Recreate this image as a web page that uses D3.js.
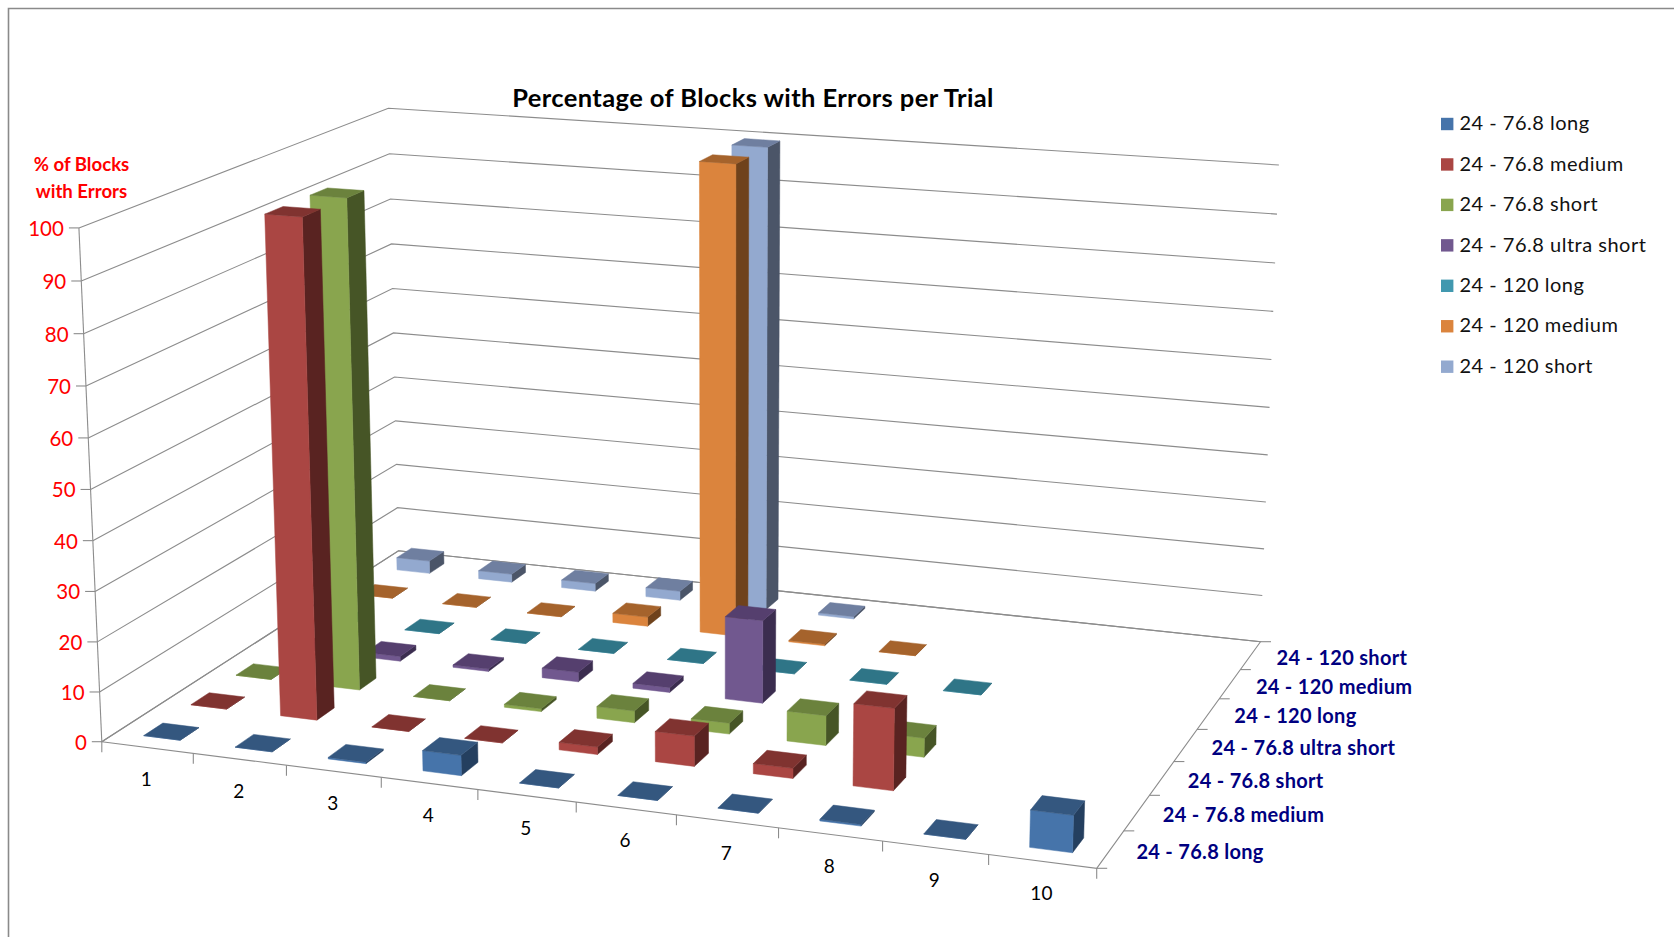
<!DOCTYPE html>
<html>
<head>
<meta charset="utf-8">
<title>Percentage of Blocks with Errors per Trial</title>
<script src="https://cdn.jsdelivr.net/npm/d3@7"></script>
<style>
html,body{margin:0;padding:0;background:#fff;}
svg{display:block;}
text{font-family:Lato,"Open Sans",sans-serif;}
</style>
</head>
<body>
<svg id="chart" width="1674" height="937"></svg>
<script>
// Data: percentage of blocks with errors, one array per series, one entry per trial.
const trials = ["1","2","3","4","5","6","7","8","9","10"];
const seriesNames = ["24 - 76.8 long","24 - 76.8 medium","24 - 76.8 short","24 - 76.8 ultra short","24 - 120 long","24 - 120 medium","24 - 120 short"];
const long768 = [0,0,0.3,4,0,0,0,0.3,0,7];
const medium768 = [0,99.5,0,0,1.5,6,2,16,null,null];
const short768 = [0,99.5,0,0.6,2.4,2.2,6,3.8,null,null];
const ultra768 = [0,1,0.5,2,1,17,null,null,null,null];
const long120 = [0,0,0,0,0,0,0,0,null,null];
const medium120 = [0,0,0,2,99.5,0.3,0,null,null,null];
const short120 = [2.8,1.8,1.7,2,99.5,0.5,null,null,null,null];
const seriesValues = [long768,medium768,short768,ultra768,long120,medium120,short120];
const valueTicks = [0,10,20,30,40,50,60,70,80,90,100];

// Face colours per series: front, top, side.
const frontColors = ["#4674AA","#AA4643","#89A54E","#71588F","#4198AF","#DB843D","#93A9CF"];
const topColors = ["#34577F","#803330","#6B823D","#553F6E","#2F7587","#A5632C","#6F7FA0"];
const sideColors = ["#243F5F","#592321","#465526","#3B2D4F","#215360","#6F421C","#4B5568"];

const svg = d3.select("#chart");
const gridColor = "#8c8c8c";

// Perspective camera: floor corners and wall tops fixed on screen.
const floorCorners = [[101.8,741.7],[1096.7,868.3],[1260.5,641.7],[398.5,550.7]];
const wallTops = [[[0,0],[78,228.3]],[[0,1],[389.5,107.5]],[[1,1],[1278.5,165.5]]];

function floorHomography(q){
  const [p0,p1,p2,p3] = q;
  const dx1=p1[0]-p2[0], dx2=p3[0]-p2[0], sx=p0[0]-p1[0]+p2[0]-p3[0];
  const dy1=p1[1]-p2[1], dy2=p3[1]-p2[1], sy=p0[1]-p1[1]+p2[1]-p3[1];
  const den=dx1*dy2-dx2*dy1;
  const g=(sx*dy2-dx2*sy)/den, h=(dx1*sy-sx*dy1)/den;
  return {a:p1[0]-p0[0]+g*p1[0], b:p3[0]-p0[0]+h*p3[0], c:p0[0],
          d:p1[1]-p0[1]+g*p1[1], e:p3[1]-p0[1]+h*p3[1], f:p0[1], g, h};
}
const H = floorHomography(floorCorners);
const floorPoint = (u,v)=>[H.a*u+H.b*v+H.c, H.d*u+H.e*v+H.f, H.g*u+H.h*v+1];

// Least-squares fit of the height column of the projection matrix.
function solveHeightColumn(){
  const ATA=[[0,0,0],[0,0,0],[0,0,0]], ATb=[0,0,0];
  const add=(row,b)=>{for(let i=0;i<3;i++){ATb[i]+=row[i]*b;for(let j=0;j<3;j++)ATA[i][j]+=row[i]*row[j];}};
  wallTops.forEach(([[u,v],[sx,sy]])=>{
    const [X,Y,W]=floorPoint(u,v);
    add([1,0,-sx],sx*W-X);
    add([0,1,-sy],sy*W-Y);
  });
  const M=ATA.map((r,i)=>[...r,ATb[i]]);
  for(let i=0;i<3;i++){
    for(let k=i+1;k<3;k++){const m=M[k][i]/M[i][i];for(let j=i;j<4;j++)M[k][j]-=m*M[i][j];}
  }
  const p=[0,0,0];
  for(let i=2;i>=0;i--){let s=M[i][3];for(let j=i+1;j<3;j++)s-=M[i][j]*p[j];p[i]=s/M[i][i];}
  return p;
}
const P3 = solveHeightColumn();
function project(u,v,t){
  const [X,Y,W]=floorPoint(u,v);
  const w=W+P3[2]*t;
  return [(X+P3[0]*t)/w,(Y+P3[1]*t)/w];
}

// Scales from data space to unit floor and wall coordinates.
const trialBand = d3.scaleBand().domain(trials).range([0,1]).paddingInner(0.6).paddingOuter(0.3);
const seriesBand = d3.scaleBand().domain(seriesNames).range([0,1]).paddingInner(0.6).paddingOuter(0.3);
const trialEdge = d3.scaleLinear().domain([0,trials.length]).range([0,1]);
const seriesEdge = d3.scaleLinear().domain([0,seriesNames.length]).range([0,1]);
const heightScale = d3.scaleLinear().domain([0,100]).range([0,1]);

const line = d3.line();
const polyline = (pts)=>line(pts);
const polygon = (pts)=>line(pts)+"Z";

// Outer frame of the chart area.
svg.append("path").attr("d","M8.5,937V8.5H1674").attr("fill","none").attr("stroke","#8a8a8a").attr("stroke-width",1.6);

// Gridlines on the back and left walls.
const grid = svg.append("g").attr("fill","none").attr("stroke",gridColor).attr("stroke-width",1.1);
valueTicks.forEach(val=>{
  const t=heightScale(val);
  grid.append("path").attr("d",polyline([project(0,0,t),project(0,1,t),project(1,1,t)]));
  const a=project(0,0,t);
  grid.append("path").attr("d",polyline([a,[a[0]-10,a[1]]]));
});
// Vertical value axis and floor outline.
grid.append("path").attr("d",polyline([project(0,0,0),project(0,0,1)]));
grid.append("path").attr("d",polygon([project(0,0,0),project(1,0,0),project(1,1,0),project(0,1,0)]));

// Tick marks on the two floor axes.
d3.range(trials.length+1).forEach(i=>{
  const a=project(trialEdge(i),0,0);
  grid.append("path").attr("d",polyline([a,[a[0],a[1]+10.5]]));
});
d3.range(seriesNames.length+1).forEach(i=>{
  const a=project(1,seriesEdge(i),0);
  grid.append("path").attr("d",polyline([a,[a[0]+10.5,a[1]]]));
});

// Flatten the series arrays into bars and paint them from back to front.
const bars=[];
seriesValues.forEach((vals,s)=>vals.forEach((v,c)=>{if(v!==null)bars.push({s,c,v});}));
bars.sort((a,b)=>d3.descending(a.s,b.s)||d3.ascending(a.c,b.c));

const barGroups = svg.append("g").selectAll("g").data(bars).join("g");
function faces(d){
  const u0=trialBand(trials[d.c]), u1=u0+trialBand.bandwidth();
  const v0=seriesBand(seriesNames[d.s]), v1=v0+seriesBand.bandwidth();
  const t=heightScale(d.v);
  return {
    front:[project(u0,v0,0),project(u1,v0,0),project(u1,v0,t),project(u0,v0,t)],
    side:[project(u1,v0,0),project(u1,v1,0),project(u1,v1,t),project(u1,v0,t)],
    top:[project(u0,v0,t),project(u1,v0,t),project(u1,v1,t),project(u0,v1,t)]
  };
}
barGroups.append("path").attr("d",d=>polygon(faces(d).side))
  .attr("fill",d=>sideColors[d.s]).attr("stroke",d=>sideColors[d.s]).attr("stroke-width",0.5);
barGroups.append("path").attr("d",d=>polygon(faces(d).front))
  .attr("fill",d=>frontColors[d.s]).attr("stroke",d=>frontColors[d.s]).attr("stroke-width",0.5);
barGroups.append("path").attr("d",d=>polygon(faces(d).top))
  .attr("fill",d=>topColors[d.s]).attr("stroke",d=>topColors[d.s]).attr("stroke-width",0.5);

// Title and value axis title.
svg.append("text").attr("x",753).attr("y",107).attr("text-anchor","middle")
  .attr("font-size",25.5).attr("font-weight",700).attr("letter-spacing",0.4).attr("fill","#000")
  .text("Percentage of Blocks with Errors per Trial");
svg.append("text").attr("x",81.5).attr("y",171).attr("text-anchor","middle")
  .attr("font-size",18.6).attr("font-weight",700).attr("fill","#ff0000").text("% of Blocks");
svg.append("text").attr("x",81.5).attr("y",198).attr("text-anchor","middle")
  .attr("font-size",18.6).attr("font-weight",700).attr("fill","#ff0000").text("with Errors");

// Value axis labels.
svg.append("g").selectAll("text").data(valueTicks).join("text")
  .attr("x",d=>project(0,0,heightScale(d))[0]-15)
  .attr("y",d=>project(0,0,heightScale(d))[1]+8)
  .attr("text-anchor","end").attr("font-size",20.5).attr("fill","#ff0000").text(d=>d);

// Trial labels under the front edge.
svg.append("g").selectAll("text").data(trials).join("text")
  .attr("x",(d,i)=>project(trialEdge(i+0.5),0,0)[0]-1)
  .attr("y",(d,i)=>project(trialEdge(i+0.5),0,0)[1]+39)
  .attr("text-anchor","middle").attr("font-size",19).attr("fill","#000").text(d=>d);

// Series labels along the right floor edge.
svg.append("g").selectAll("text").data(seriesNames).join("text")
  .attr("x",(d,i)=>project(1,seriesEdge(i+0.5),0)[0]+26)
  .attr("y",(d,i)=>project(1,seriesEdge(i+0.5),0)[1]+9.5)
  .attr("font-size",20).attr("font-weight",700).attr("letter-spacing",0.3).attr("fill","#000080").text(d=>d);

// Legend.
const legendY = d3.scalePoint().domain(seriesNames).range([124,366.7]);
const legend = svg.append("g").selectAll("g").data(seriesNames).join("g")
  .attr("transform",d=>`translate(0,${legendY(d)})`);
legend.append("rect").attr("x",1441).attr("y",-6.2).attr("width",12.4).attr("height",12.4)
  .attr("fill",(d,i)=>frontColors[i]);
legend.append("text").attr("x",1459.5).attr("y",6.2).attr("font-size",20)
  .attr("letter-spacing",0.5).attr("fill","#111").text(d=>d);
</script>
</body>
</html>
